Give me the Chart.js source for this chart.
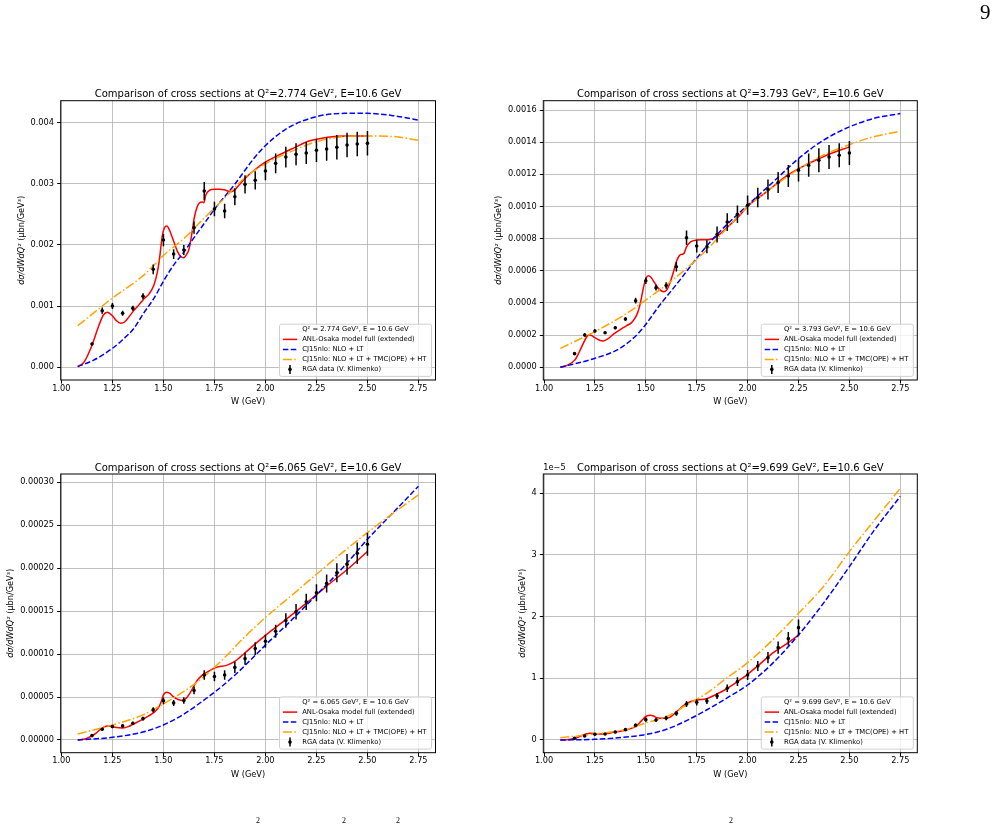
<!DOCTYPE html>
<html><head><meta charset="utf-8">
<script src="https://cdn.jsdelivr.net/npm/chart.js@4/dist/chart.umd.min.js"></script>
<style>
html,body{margin:0;padding:0;background:#fff;}
body{width:997px;height:826px;overflow:hidden;position:relative;}
canvas{position:absolute;}
</style></head><body>
<canvas id="page" width="997" height="826" style="left:0;top:0"></canvas>
<canvas id="c1"></canvas><canvas id="c2"></canvas><canvas id="c3"></canvas><canvas id="c4"></canvas>
<script>
// ---------------- DATA ----------------
const X_TICKS = [1.00, 1.25, 1.50, 1.75, 2.00, 2.25, 2.50, 2.75];
const W_DATA = [1.15,1.20,1.25,1.30,1.35,1.40,1.45,1.50,1.55,1.60,1.65,1.70,1.75,1.80,1.85,1.90,1.95,2.00,2.05,2.10,2.15,2.20,2.25,2.30,2.35,2.40,2.45,2.50];
const W_DATA_Q9699 = [1.15,1.20,1.25,1.30,1.35,1.40,1.45,1.50,1.55,1.60,1.65,1.70,1.75,1.80,1.85,1.90,1.95,2.00,2.05,2.10,2.15,2.20,2.25];

// Q2 = 2.774 (values in 1e-3)
const RGA_Q2774 = [0.381,0.925,1.002,0.882,0.964,1.160,1.601,2.080,1.851,1.917,2.281,2.880,2.587,2.554,2.788,2.990,3.055,3.208,3.333,3.436,3.480,3.502,3.546,3.567,3.595,3.632,3.649,3.660];
const ERR_Q2774 = [0.02,0.05,0.05,0.04,0.04,0.05,0.08,0.10,0.08,0.08,0.10,0.15,0.12,0.12,0.14,0.15,0.15,0.15,0.16,0.17,0.18,0.18,0.19,0.19,0.20,0.20,0.20,0.20];
const ANL_Q2774 = [[1.080,0.01],[1.110,0.08],[1.150,0.36],[1.180,0.65],[1.205,0.85],[1.226,0.90],[1.250,0.84],[1.270,0.76],[1.290,0.72],[1.310,0.74],[1.330,0.82],[1.356,0.93],[1.380,1.02],[1.405,1.12],[1.430,1.20],[1.454,1.35],[1.470,1.55],[1.479,1.73],[1.495,2.16],[1.505,2.28],[1.517,2.31],[1.530,2.24],[1.545,2.11],[1.569,1.89],[1.585,1.81],[1.599,1.79],[1.613,1.84],[1.626,1.94],[1.640,2.20],[1.651,2.44],[1.665,2.62],[1.675,2.68],[1.690,2.70],[1.698,2.69],[1.708,2.82],[1.725,2.89],[1.749,2.91],[1.775,2.91],[1.798,2.90],[1.831,2.87],[1.850,2.90],[1.863,2.95],[1.904,3.10],[1.945,3.22],[2.003,3.36],[2.060,3.46],[2.142,3.59],[2.207,3.69],[2.305,3.76],[2.403,3.78],[2.500,3.78]];
const LT_Q2774 = [[1.080,0.01],[1.160,0.12],[1.250,0.31],[1.300,0.45],[1.356,0.64],[1.400,0.87],[1.454,1.13],[1.504,1.43],[1.550,1.67],[1.602,1.89],[1.650,2.12],[1.700,2.35],[1.754,2.60],[1.847,2.98],[1.945,3.42],[2.002,3.63],[2.109,3.91],[2.253,4.10],[2.387,4.15],[2.500,4.15],[2.631,4.11],[2.750,4.04]];
const HT_Q2774 = [[1.080,0.68],[1.250,1.13],[1.405,1.51],[1.504,1.84],[1.602,2.11],[1.700,2.44],[1.798,2.76],[1.896,3.09],[2.002,3.33],[2.142,3.55],[2.253,3.69],[2.387,3.77],[2.500,3.78],[2.631,3.77],[2.750,3.71]];

// Q2 = 3.793 (values in 1e-4)
const RGA_Q3793 = [0.85,2.01,2.26,2.15,2.46,3.00,4.14,5.38,4.95,5.09,6.25,8.05,7.54,7.50,8.26,9.03,9.52,10.08,10.56,11.06,11.49,11.90,12.26,12.57,12.88,13.08,13.19,13.33];
const ERR_Q3793 = [0.04,0.10,0.10,0.08,0.10,0.12,0.18,0.20,0.18,0.20,0.30,0.45,0.40,0.40,0.50,0.55,0.55,0.60,0.60,0.62,0.65,0.68,0.70,0.72,0.75,0.75,0.75,0.75];
const ANL_Q3793 = [[1.080,0.00],[1.110,0.10],[1.152,0.46],[1.175,1.00],[1.193,1.49],[1.210,1.90],[1.222,2.01],[1.235,1.97],[1.250,1.84],[1.270,1.70],[1.291,1.64],[1.315,1.78],[1.340,2.05],[1.375,2.35],[1.406,2.59],[1.430,2.78],[1.446,3.04],[1.460,3.40],[1.471,3.87],[1.482,4.55],[1.491,5.11],[1.502,5.55],[1.512,5.69],[1.525,5.60],[1.545,5.22],[1.565,4.86],[1.589,4.70],[1.605,4.85],[1.618,5.22],[1.635,5.90],[1.650,6.56],[1.665,6.95],[1.676,7.02],[1.687,7.08],[1.700,7.49],[1.720,7.80],[1.749,7.91],[1.780,7.93],[1.815,7.95],[1.847,8.12],[1.897,8.67],[1.962,9.46],[2.003,10.04],[2.093,10.91],[2.191,11.90],[2.290,12.61],[2.388,13.19],[2.500,13.71]];
const LT_Q3793 = [[1.080,0.00],[1.250,0.56],[1.373,1.18],[1.471,2.22],[1.569,3.87],[1.667,5.42],[1.749,6.77],[1.847,8.22],[2.000,10.08],[2.126,11.53],[2.250,12.98],[2.372,14.12],[2.500,14.95],[2.617,15.47],[2.750,15.78]];
const HT_Q3793 = [[1.080,1.18],[1.250,2.22],[1.406,3.35],[1.504,4.22],[1.602,5.13],[1.700,6.15],[1.798,7.29],[1.897,8.63],[2.000,9.98],[2.126,11.22],[2.250,12.32],[2.372,13.19],[2.500,13.85],[2.617,14.33],[2.750,14.68]];

// Q2 = 6.065 (values in 1e-5)
const RGA_Q6065 = [0.51,1.25,1.56,1.64,1.95,2.49,3.51,4.56,4.32,4.60,5.77,7.56,7.40,7.56,8.45,9.47,10.64,11.49,12.66,13.91,14.92,16.09,17.14,18.23,19.48,20.45,21.74,22.79];
const ERR_Q6065 = [0.08,0.12,0.15,0.15,0.18,0.22,0.30,0.40,0.35,0.38,0.45,0.55,0.55,0.55,0.65,0.70,0.75,0.75,0.75,0.85,0.90,0.95,1.00,1.05,1.10,1.20,1.25,1.35];
const ANL_Q6065 = [[1.080,0.00],[1.120,0.15],[1.150,0.47],[1.170,0.80],[1.188,1.17],[1.205,1.45],[1.224,1.64],[1.245,1.58],[1.262,1.48],[1.302,1.40],[1.330,1.58],[1.351,1.83],[1.400,2.42],[1.449,3.12],[1.465,3.45],[1.479,3.90],[1.490,4.50],[1.498,5.14],[1.515,5.57],[1.530,5.45],[1.548,5.06],[1.575,4.68],[1.597,4.60],[1.615,4.95],[1.630,5.45],[1.662,6.82],[1.690,7.55],[1.711,7.87],[1.760,8.45],[1.809,8.69],[1.850,9.15],[1.899,10.13],[1.998,12.15],[2.104,14.10],[2.202,15.97],[2.300,17.92],[2.398,19.79],[2.500,21.95]];
const LT_Q6065 = [[1.080,0.00],[1.250,0.31],[1.400,0.93],[1.500,1.75],[1.600,3.00],[1.700,4.67],[1.750,5.55],[1.847,7.48],[1.945,9.74],[2.002,11.10],[2.109,13.52],[2.253,16.95],[2.387,20.26],[2.500,23.37],[2.631,26.60],[2.750,29.55]];
const HT_Q6065 = [[1.080,0.70],[1.250,1.75],[1.400,2.92],[1.500,4.21],[1.600,5.65],[1.700,7.40],[1.798,9.55],[1.896,11.95],[2.002,14.30],[2.142,17.10],[2.253,19.36],[2.387,22.01],[2.500,24.15],[2.631,26.49],[2.750,28.55]];

// Q2 = 9.699 (values in 1e-5)
const RGA_Q9699 = [0.027,0.065,0.092,0.097,0.130,0.168,0.238,0.330,0.324,0.357,0.432,0.584,0.611,0.632,0.714,0.838,0.946,1.054,1.200,1.335,1.497,1.643,1.822];
const ERR_Q9699 = [0.010,0.015,0.015,0.015,0.020,0.020,0.030,0.035,0.030,0.035,0.040,0.050,0.050,0.050,0.050,0.060,0.070,0.080,0.080,0.090,0.100,0.110,0.130];
const ANL_Q9699 = [[1.080,0.000],[1.120,0.008],[1.152,0.027],[1.175,0.055],[1.193,0.081],[1.210,0.100],[1.225,0.108],[1.250,0.104],[1.274,0.097],[1.300,0.100],[1.340,0.124],[1.405,0.162],[1.454,0.227],[1.470,0.280],[1.479,0.314],[1.504,0.389],[1.523,0.400],[1.540,0.385],[1.553,0.362],[1.594,0.351],[1.618,0.368],[1.651,0.459],[1.700,0.595],[1.749,0.649],[1.798,0.670],[1.847,0.741],[1.896,0.827],[1.962,0.973],[2.000,1.065],[2.059,1.227],[2.126,1.416],[2.191,1.560],[2.250,1.700]];
const LT_Q9699 = [[1.080,0.000],[1.250,0.011],[1.390,0.043],[1.504,0.092],[1.602,0.173],[1.700,0.314],[1.798,0.486],[1.896,0.676],[2.000,0.892],[2.126,1.254],[2.250,1.703],[2.372,2.216],[2.500,2.811],[2.617,3.378],[2.750,3.950]];
const HT_Q9699 = [[1.080,0.038],[1.250,0.097],[1.406,0.173],[1.504,0.281],[1.602,0.378],[1.700,0.568],[1.798,0.757],[1.896,1.000],[2.000,1.254],[2.126,1.632],[2.250,2.054],[2.372,2.486],[2.500,3.054],[2.617,3.541],[2.750,4.080]];

const Y_TICKS_Q2774 = [0,1,2,3,4];
const Y_TICKS_Q3793 = [0,2,4,6,8,10,12,14,16];
const Y_TICKS_Q6065 = [0,5,10,15,20,25,30];
const Y_TICKS_Q9699 = [0,1,2,3,4];

const SERIES_LABELS = ['ANL-Osaka model full (extended)','CJ15nlo: NLO + LT','CJ15nlo: NLO + LT + TMC(OPE) + HT','RGA data (V. Klimenko)'];

// ---------------- PAGE TEXT ----------------
(function(){
  const c = document.getElementById('page').getContext('2d');
  c.fillStyle = '#fff'; c.fillRect(0,0,997,826);
  c.fillStyle = '#000';
  c.font = '21px "Liberation Serif"'; c.textBaseline = 'alphabetic'; c.textAlign = 'left';
  c.fillText('9', 980, 19);
  c.font = '8px "Liberation Serif"';
  [256, 342, 396, 729].forEach(x => c.fillText('2', x, 823));
})();

// ---------------- LAYOUT ----------------
const FONT = '"DejaVu Sans"';
const panels = [
  {id:'c1', q2:'2.774', L:60.7, T:100.7, R:435.5, B:380.0, cl:0,   unit:1e-3, dec:3, yMin:-0.208, yMax:4.357, yTicks:Y_TICKS_Q2774, W:W_DATA, rga:RGA_Q2774, err:ERR_Q2774, anl:ANL_Q2774, lt:LT_Q2774, ht:HT_Q2774},
  {id:'c2', q2:'3.793', L:543.3, T:100.7, R:917.3, B:380.0, cl:480, unit:1e-4, dec:4, yMin:-0.79, yMax:16.58, yTicks:Y_TICKS_Q3793, W:W_DATA, rga:RGA_Q3793, err:ERR_Q3793, anl:ANL_Q3793, lt:LT_Q3793, ht:HT_Q3793},
  {id:'c3', q2:'6.065', L:60.7, T:474.0, R:435.5, B:752.7, cl:0,   unit:1e-5, dec:5, yMin:-1.48, yMax:30.97, yTicks:Y_TICKS_Q6065, W:W_DATA, rga:RGA_Q6065, err:ERR_Q6065, anl:ANL_Q6065, lt:LT_Q6065, ht:HT_Q6065},
  {id:'c4', q2:'9.699', L:543.3, T:474.0, R:917.3, B:752.7, cl:480, unit:1e-5, dec:null, offset:'1e\u22125', yMin:-0.206, yMax:4.313, yTicks:Y_TICKS_Q9699, W:W_DATA_Q9699, rga:RGA_Q9699, err:ERR_Q9699, anl:ANL_Q9699, lt:LT_Q9699, ht:HT_Q9699}
];

const TICK_FS = 8.2, TITLE_FS = 10, LEG_FS = 6.8;
const DASH_LT = [5.5, 2.4], DASH_HT = [9.0, 2.4, 1.5, 2.4];

const decoPlugin = {
  id: 'deco',
  beforeDatasetDraw(chart, args) {
    const ds = chart.data.datasets[args.index];
    if (!ds.errors) return;
    const ctx = chart.ctx, xs = chart.scales.x, ys = chart.scales.y, ca = chart.chartArea;
    ctx.save();
    ctx.beginPath(); ctx.rect(ca.left, ca.top, ca.right - ca.left, ca.bottom - ca.top); ctx.clip();
    ctx.strokeStyle = '#000'; ctx.lineWidth = 1.5;
    ds.data.forEach((p, i) => {
      const x = xs.getPixelForValue(p.x);
      ctx.beginPath();
      ctx.moveTo(x, ys.getPixelForValue(p.y - ds.errors[i]));
      ctx.lineTo(x, ys.getPixelForValue(p.y + ds.errors[i]));
      ctx.stroke();
    });
    ctx.restore();
  },
  afterDraw(chart) {
    const ctx = chart.ctx, ca = chart.chartArea, P = chart.options.plugins.deco.panel;
    const cx = (ca.left + ca.right) / 2;
    ctx.save();
    // frame
    ctx.strokeStyle = '#000'; ctx.lineWidth = 1;
    ctx.strokeRect(ca.left, ca.top, ca.right - ca.left, ca.bottom - ca.top);
    // title
    ctx.fillStyle = '#000';
    ctx.font = `${TITLE_FS}px ${FONT}`;
    ctx.textAlign = 'center'; ctx.textBaseline = 'alphabetic';
    ctx.fillText(`Comparison of cross sections at Q\u00b2=${P.q2} GeV\u00b2, E=10.6 GeV`, cx, ca.top - 3.3);
    // x label
    ctx.font = `${TICK_FS}px ${FONT}`;
    ctx.textBaseline = 'middle';
    ctx.fillText('W (GeV)', cx, ca.bottom + 22.3);
    // offset text
    if (P.offset) {
      ctx.textAlign = 'left'; ctx.textBaseline = 'alphabetic';
      ctx.fillText(P.offset, ca.left, ca.top - 4.5);
    }
    // y label
    const ys = chart.scales.y;
    let maxW = 0;
    ys.ticks.forEach(t => { maxW = Math.max(maxW, ctx.measureText(t.label).width); });
    const lx = ca.left - 3.5 - 3.2 - maxW - 8.8;
    const ly = (ca.top + ca.bottom) / 2;
    const p1 = 'd\u03c3/dWdQ\u00b2', p2 = ' (\u00b5bn/GeV\u00b3)';
    ctx.font = `italic ${TICK_FS}px ${FONT}`; const w1 = ctx.measureText(p1).width;
    ctx.font = `${TICK_FS}px ${FONT}`; const w2 = ctx.measureText(p2).width;
    ctx.translate(lx, ly); ctx.rotate(-Math.PI / 2);
    ctx.textAlign = 'left'; ctx.textBaseline = 'middle';
    ctx.font = `italic ${TICK_FS}px ${FONT}`; ctx.fillText(p1, -(w1 + w2) / 2, 0);
    ctx.font = `${TICK_FS}px ${FONT}`; ctx.fillText(p2, -(w1 + w2) / 2 + w1, 0);
    ctx.setTransform(1, 0, 0, 1, 0, 0);
    // legend
    ctx.font = `${LEG_FS}px ${FONT}`;
    const header = `Q\u00b2 = ${P.q2} GeV\u00b2, E = 10.6 GeV`;
    const rows = [header].concat(SERIES_LABELS);
    let tw = 0; rows.forEach(r => { tw = Math.max(tw, ctx.measureText(r).width); });
    const boxW = 22.7 + tw + 5, boxH = 52.2;
    const bx = ca.right - 4 - boxW, by = ca.bottom - 3.6 - boxH;
    ctx.beginPath(); ctx.roundRect(bx, by, boxW, boxH, 2);
    ctx.fillStyle = 'rgba(255,255,255,0.8)'; ctx.fill();
    ctx.strokeStyle = '#d0d0d0'; ctx.lineWidth = 1; ctx.stroke();
    const ds = chart.data.datasets;
    rows.forEach((r, i) => {
      const y = by + 5.2 + 10 * i;
      ctx.fillStyle = '#000'; ctx.textAlign = 'left'; ctx.textBaseline = 'middle';
      ctx.fillText(r, bx + 22.7, y);
      if (i >= 1 && i <= 3) {
        const d = ds[i - 1];
        ctx.save();
        ctx.strokeStyle = d.borderColor; ctx.lineWidth = d.borderWidth;
        ctx.setLineDash(d.borderDash || []);
        ctx.beginPath(); ctx.moveTo(bx + 3.4, y); ctx.lineTo(bx + 17.7, y); ctx.stroke();
        ctx.restore();
      } else if (i === 4) {
        const hx = bx + 10.5;
        ctx.strokeStyle = '#000'; ctx.lineWidth = 1.5;
        ctx.beginPath(); ctx.moveTo(hx, y - 4.5); ctx.lineTo(hx, y + 4.5); ctx.stroke();
        ctx.fillStyle = '#000';
        ctx.beginPath(); ctx.arc(hx, y, 1.8, 0, Math.PI * 2); ctx.fill();
      }
    });
    ctx.restore();
  }
};

panels.forEach(P => {
  const ctop = Math.floor(P.T - 40);
  const cw = Math.ceil(P.R - P.cl + 30);
  const ch = Math.ceil(P.B + 40) - ctop;
  const cv = document.getElementById(P.id);
  cv.width = cw; cv.height = ch;
  cv.style.left = P.cl + 'px'; cv.style.top = ctop + 'px';
  cv.style.width = cw + 'px'; cv.style.height = ch + 'px';
  const toPts = arr => arr.map(p => ({x: p[0], y: p[1]}));
  const curve = (label, arr, color, dash, order) => ({
    label, data: toPts(arr), showLine: true, borderColor: color, backgroundColor: color,
    borderWidth: 1.5, borderDash: dash, pointRadius: 0, fill: false,
    cubicInterpolationMode: 'monotone', order
  });
  const datasets = [
    curve(SERIES_LABELS[0], P.anl, '#ff0000', [], 3),
    curve(SERIES_LABELS[1], P.lt, '#0000ff', DASH_LT, 2),
    curve(SERIES_LABELS[2], P.ht, '#ffa500', DASH_HT, 1),
    { label: SERIES_LABELS[3], data: P.W.map((w, i) => ({x: w, y: P.rga[i]})), errors: P.err,
      showLine: false, pointRadius: 1.8, pointBackgroundColor: '#000', pointBorderWidth: 0,
      pointStyle: 'circle', order: 0 }
  ];
  const gridOpt = { color: '#b0b0b0', lineWidth: 0.8, tickColor: '#000', tickLength: 3.5, tickWidth: 1 };
  new Chart(cv, {
    type: 'scatter',
    data: { datasets },
    plugins: [decoPlugin],
    options: {
      responsive: false, animation: false, devicePixelRatio: 1, events: [],
      layout: { padding: { left: 0, top: P.T - ctop, right: cw - (P.R - P.cl), bottom: 0 } },
      plugins: { legend: { display: false }, tooltip: { enabled: false }, deco: { panel: P } },
      scales: {
        x: {
          type: 'linear', min: 0.9965, max: 2.8335,
          afterBuildTicks: s => { s.ticks = X_TICKS.map(v => ({ value: v })); },
          afterFit: s => { s.height = (ctop + ch) - P.B; },
          ticks: { callback: v => Number(v).toFixed(2), font: { family: 'DejaVu Sans', size: TICK_FS }, color: '#000', padding: 0, maxRotation: 0, autoSkip: false },
          grid: gridOpt, border: { display: false }
        },
        y: {
          type: 'linear', min: P.yMin, max: P.yMax,
          afterBuildTicks: s => { s.ticks = P.yTicks.map(v => ({ value: v })); },
          afterFit: s => { s.width = P.L - P.cl; },
          ticks: { callback: v => P.dec === null ? String(v) : (v * P.unit).toFixed(P.dec), font: { family: 'DejaVu Sans', size: TICK_FS }, color: '#000', padding: 3.2, autoSkip: false },
          grid: gridOpt, border: { display: false }
        }
      }
    }
  });
});
</script>
</body></html>
